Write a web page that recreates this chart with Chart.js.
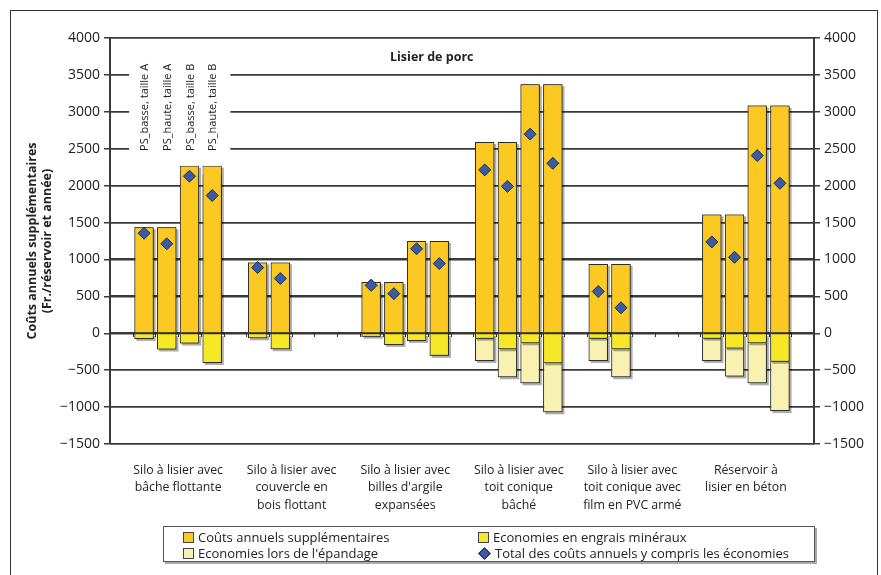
<!DOCTYPE html>
<html lang="fr">
<head>
<meta charset="utf-8">
<title>Lisier de porc</title>
<script src="https://cdn.jsdelivr.net/npm/chart.js@4.4.1/dist/chart.umd.min.js"></script>
<style>
  html, body { margin: 0; padding: 0; background: #fff; }
  #wrap { position: relative; width: 881px; height: 575px; overflow: hidden; }
  #frame {
    position: absolute; left: 10px; top: 10px; width: 866px; height: 600px;
    border: 1.5px solid #333; pointer-events: none;
  }
  #legend {
    position: absolute; left: 163px; top: 526px; width: 650px; height: 34px;
    border: 1px solid #555; box-shadow: 2px 2px 0 #aaa; background: #fff;
    font: 13px "Open Sans", sans-serif; color: #222;
  }
  #legend .item { position: absolute; display: flex; align-items: center; white-space: nowrap; }
  #legend .mk { width: 9px; height: 9px; border: 1px solid #444; margin-right: 4px; }
  #legend .dm { width: 7px; height: 7px; margin: 0 6px 0 2px; transform: rotate(45deg);
    background: #3b5ba5; border: 1px solid #1c2b52; }
</style>
</head>
<body>
<div id="wrap">
  <canvas id="slurryChart" width="881" height="575"></canvas>
  <div id="frame"></div>
  <div id="legend"></div>
</div>
<script>
// ---- data ----
const groupLabels = [
  ["Silo à lisier avec", "bâche flottante"],
  ["Silo à lisier avec", "couvercle en", "bois flottant"],
  ["Silo à lisier avec", "billes d'argile", "expansées"],
  ["Silo à lisier avec", "toit conique", "bâché"],
  ["Silo à lisier avec", "toit conique avec", "film en PVC armé"],
  ["Réservoir à", "lisier en béton"]
];
const variantLabels = ["PS_basse, taille A", "PS_haute, taille A", "PS_basse, taille B", "PS_haute, taille B"];

// 4 variants per group, null = no bar
const coutsSupp = [1435, 1435, 2270, 2270,  960, 960, null, null,  695, 695, 1250, 1250,
                   2590, 2590, 3375, 3375,  940, 940, null, null,  1610, 1610, 3085, 3085];
const ecoEngrais = [-77, -220, -140, -403,  -68, -216, null, null,  -46, -158, -104, -306,
                    -73, -217, -136, -407,  -73, -217, null, null,  -73, -205, -136, -386];
const ecoEpandage = [null, null, null, null,  null, null, null, null,  null, null, null, null,
                     -302, -379, -542, -664,  -302, -379, null, null,  -302, -380, -542, -668];
const totalAvecEco = [1355, 1212, 2128, 1866,  890, 742, null, null,  649, 537, 1145, 944,
                      2213, 1990, 2698, 2302,  566, 345, null, null,  1237, 1030, 2407, 2032];

const yTicks = { min: -1500, max: 4000, step: 500 };
const legendNames = [
  "Coûts annuels supplémentaires",
  "Economies en engrais minéraux",
  "Economies lors de l'épandage",
  "Total des coûts annuels y compris les économies"
];
const colors = ["#fcc923", "#f6e826", "#f8f1b2", "#3b5ba5"];

// ---- helpers ----
// each group takes 5 slots on the x scale (4 bars + 1 gap), first slot empty
const slotX = (g, v) => g * 5 + v + 1.5;
const toPoints = (vals) =>
  vals.map((y, i) => ({ x: slotX(Math.floor(i / 4), i % 4), y }))
      .filter(p => p.y !== null);
const fmt = (v) => (v < 0 ? "\u2212" + Math.abs(v) : String(v));
const tickFont = { family: "'Open Sans', sans-serif", size: 14 };
const gridColor = "#3a3a3a";

// grid (as thin filled strips), zero-line ticks, captions, then bars and diamonds on top
const overlay = {
  id: "overlay",
  afterDatasetsDraw(chart) {
    const { ctx, chartArea, scales: { x, y } } = chart;
    const w = chartArea.right - chartArea.left;
    ctx.save();
    ctx.globalCompositeOperation = "source-over";
    ctx.globalAlpha = 1;
    ctx.shadowColor = "rgba(0,0,0,0)";

    ctx.fillStyle = gridColor;
    y.ticks.forEach((t) => {
      const py = Math.round(y.getPixelForValue(t.value));
      ctx.fillRect(chartArea.left, py - 1, w, 1.5);
    });

    const y0 = Math.round(y.getPixelForValue(0));
    ctx.fillStyle = "#333";
    for (let i = 0; i <= 31; i++) {
      ctx.fillRect(Math.round(x.getPixelForValue(i)), y0, 1, 4);
    }

    // white box behind the variant captions
    ctx.fillStyle = "#fff";
    const bx0 = x.getPixelForValue(0.84), bx1 = x.getPixelForValue(5.3);
    const by0 = y.getPixelForValue(3750), by1 = y.getPixelForValue(2150);
    ctx.fillRect(bx0, by0, bx1 - bx0, by1 - by0);

    ctx.fillStyle = "#222";
    ctx.font = "11px 'Open Sans', sans-serif";
    ctx.textAlign = "left";
    ctx.textBaseline = "middle";
    variantLabels.forEach((t, v) => {
      ctx.save();
      ctx.translate(x.getPixelForValue(slotX(0, v)) + 1, y.getPixelForValue(2470));
      ctx.rotate(-Math.PI / 2);
      ctx.fillText(t, 0, 0);
      ctx.restore();
    });

    ctx.font = "bold 12.5px 'Open Sans', sans-serif";
    ctx.textAlign = "center";
    ctx.fillText("Lisier de porc", chartArea.left + 0.457 * w, chartArea.top + 19);

    // repaint the marks above the grid
    const metas = chart.getSortedVisibleDatasetMetas();
    for (let m = metas.length - 1; m >= 0; m--) {
      const meta = metas[m];
      if (meta.type === "bar") {
        meta.data.forEach((el) => {
          const { x: bx, y: by, base, width } = el.getProps(["x", "y", "base", "width"], true);
          ctx.fillStyle = "rgba(0,0,0,0.32)";
          ctx.fillRect(bx - width / 2 + 2, Math.min(by, base) + 2, width, Math.abs(base - by));
        });
        meta.data.forEach((el) => el.draw(ctx));
      } else {
        meta.data.forEach((el) => el.draw(ctx, chartArea));
      }
    }
    ctx.restore();
  }
};

new Chart(document.getElementById("slurryChart"), {
  data: {
    datasets: [
      {
        type: "line",
        label: legendNames[3],
        data: toPoints(totalAvecEco),
        showLine: false,
        stack: "total",
        pointStyle: "rectRot",
        pointRadius: 6,
        pointBackgroundColor: colors[3],
        pointBorderColor: "#1c2b52",
        pointBorderWidth: 1,
        order: 0
      },
      {
        type: "bar",
        label: legendNames[0],
        data: toPoints(coutsSupp),
        backgroundColor: colors[0],
        borderColor: "#2b2b2b",
        borderWidth: 1,
        stack: "bars",
        order: 1
      },
      {
        type: "bar",
        label: legendNames[1],
        data: toPoints(ecoEngrais),
        backgroundColor: colors[1],
        borderColor: "#2b2b2b",
        borderWidth: 1,
        stack: "bars",
        order: 2
      },
      {
        type: "bar",
        label: legendNames[2],
        data: toPoints(ecoEpandage),
        backgroundColor: colors[2],
        borderColor: "#2b2b2b",
        borderWidth: 1,
        stack: "bars",
        order: 3
      }
    ]
  },
  options: {
    responsive: false,
    animation: false,
    layout: { padding: { left: 10, right: 0, top: 38, bottom: 0 } },
    datasets: {
      bar: { barPercentage: 0.85, categoryPercentage: 1 }
    },
    plugins: {
      legend: { display: false },
      tooltip: { enabled: false }
    },
    scales: {
      x: {
        type: "linear",
        min: 0,
        max: 31,
        offset: false,
        position: "bottom",
        afterBuildTicks: (s) => { s.ticks = groupLabels.map((_, g) => ({ value: g * 5 + 3 })); },
        afterFit: (s) => { s.height = 131; },
        ticks: {
          autoSkip: false,
          maxRotation: 0,
          padding: 10,
          color: "#222",
          font: { family: "'Open Sans', sans-serif", size: 12.3, lineHeight: 1.4 },
          callback: (v, i) => groupLabels[i]
        },
        grid: { display: false },
        border: { display: false }
      },
      y: {
        type: "linear",
        position: "left",
        stacked: true,
        min: yTicks.min,
        max: yTicks.max,
        afterFit: (s) => { s.width = 100; },
        ticks: { stepSize: yTicks.step, color: "#222", font: tickFont, padding: 4, callback: fmt },
        grid: { color: gridColor, lineWidth: 1.5, tickLength: 6 },
        border: { color: gridColor, width: 2 },
        title: {
          display: true,
          text: ["Coûts annuels supplémentaires", "(Fr./réservoir et année)"],
          color: "#222",
          font: { family: "'Open Sans', sans-serif", size: 12.5, weight: "bold", lineHeight: 1.2 },
          padding: { top: 15 }
        }
      },
      y2: {
        type: "linear",
        position: "right",
        min: yTicks.min,
        max: yTicks.max,
        afterFit: (s) => { s.width = 67; },
        ticks: { stepSize: yTicks.step, color: "#222", font: tickFont, padding: 4, callback: fmt },
        grid: { drawOnChartArea: false, color: gridColor, lineWidth: 1.5, tickLength: 6 },
        border: { color: gridColor, width: 2 }
      }
    }
  },
  plugins: [overlay]
});

// legend, two columns by two rows
const legendEl = document.getElementById("legend");
const legendPos = [[19, 1], [314, 1], [19, 17], [314, 17]];
legendNames.forEach((name, k) => {
  const item = document.createElement("div");
  item.className = "item";
  item.style.left = legendPos[k][0] + "px";
  item.style.top = legendPos[k][1] + "px";
  const mk = document.createElement("span");
  if (k === 3) {
    mk.className = "dm";
  } else {
    mk.className = "mk";
    mk.style.background = colors[k];
  }
  item.appendChild(mk);
  item.appendChild(document.createTextNode(name));
  legendEl.appendChild(item);
});
</script>
</body>
</html>
